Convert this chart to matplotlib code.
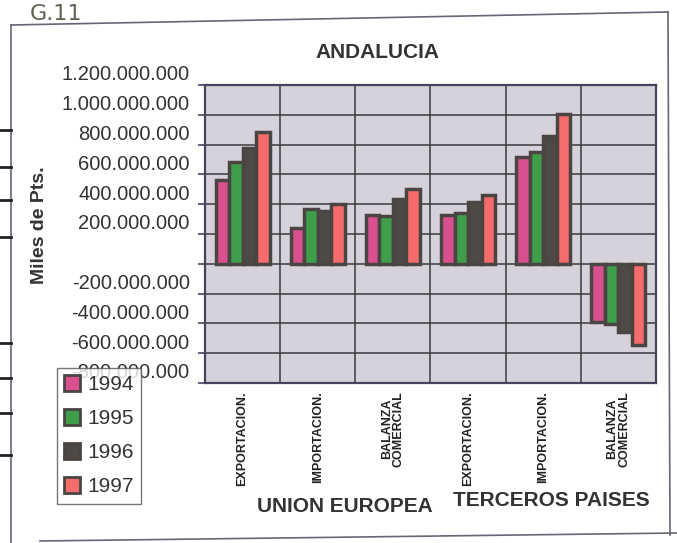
import matplotlib
matplotlib.use("Agg")
import matplotlib.pyplot as plt
import matplotlib.transforms as mtransforms
import numpy as np
from matplotlib.lines import Line2D
from matplotlib.patches import Patch

plt.rcParams['font.family'] = ['Liberation Sans', 'DejaVu Sans']

# datos (miles de pesetas)
categorias = ["EXPORTACION.", "IMPORTACION.", "BALANZA\nCOMERCIAL",
              "EXPORTACION.", "IMPORTACION.", "BALANZA\nCOMERCIAL"]
anios = ["1994", "1995", "1996", "1997"]
v1994 = [565e6, 239e6, 330e6, 326e6, 714e6, -390e6]
v1995 = [686e6, 368e6, 322e6, 344e6, 748e6, -402e6]
v1996 = [775e6, 352e6, 437e6, 414e6, 857e6, -455e6]
v1997 = [882e6, 398e6, 500e6, 465e6, 1005e6, -545e6]
series = [v1994, v1995, v1996, v1997]
colores = ["#d9508e", "#3f9e4a", "#4f4946", "#f66b6b"]
yticks = [-800e6, -600e6, -400e6, -200e6, 0, 200e6, 400e6, 600e6, 800e6, 1000e6, 1200e6]

W, H = 677, 543
fig = plt.figure(figsize=(W / 100, H / 100), dpi=100)
fig.patch.set_facecolor("white")

def fx(px):
    return px / W

def fy(py):
    return 1 - py / H

ax = fig.add_axes([fx(205), fy(383), fx(656) - fx(205), fy(85) - fy(383)])
ax.set_facecolor("#d6d2db")

x = np.arange(len(categorias))
ancho = 0.18
for i, (vals, col) in enumerate(zip(series, colores)):
    ax.bar(x + (i - 1.5) * ancho, vals, ancho, color=col, edgecolor="#4a4542",
           linewidth=2.5, zorder=3, label=anios[i])

ax.set_xlim(-0.5, 5.5)
ax.set_ylim(-800e6, 1200e6)
ax.set_yticks(yticks)
ax.set_yticklabels(["" if v == 0 else f"{v:,.0f}".replace(",", ".") for v in yticks],
                   fontsize=14.5, color="#333333")
ax.tick_params(axis="y", length=5, width=1.2, color="#444466", pad=6)
# en el original las etiquetas quedan algo por encima de su línea
desplaz = mtransforms.ScaledTranslation(0, 0.12, fig.dpi_scale_trans)
for lab in ax.get_yticklabels():
    lab.set_transform(lab.get_transform() + desplaz)

# rejilla
for v in yticks:
    ax.axhline(v, color="#3a3a3a", lw=1.1, zorder=1)
for b in np.arange(0.5, 5.5, 1):
    ax.axvline(b, color="#3a3a3a", lw=1.1, zorder=1)
for s in ax.spines.values():
    s.set_color("#44445e")
    s.set_linewidth(1.6)

ax.set_xticks(x)
ax.set_xticklabels(categorias, rotation=90, fontsize=9, fontweight="bold",
                   color="#222222", linespacing=1.0)
ax.tick_params(axis="x", length=0, pad=6)

# textos
fig.text(fx(377), fy(53), "ANDALUCIA", ha="center", va="center",
         fontsize=15, fontweight="bold", color="#333333")
fig.text(fx(40), fy(225), "Miles de Pts.", rotation=90, ha="center", va="center",
         fontsize=14, fontweight="bold", color="#333333")
fig.text(fx(345), fy(506), "UNION EUROPEA", ha="center", va="center",
         fontsize=15, fontweight="bold", color="#333333")
fig.text(fx(551), fy(501), "TERCEROS PAISES", ha="center", va="center",
         fontsize=15, fontweight="bold", color="#333333")
fig.text(fx(30), fy(14), "G.11", ha="left", va="center", fontsize=16,
         color="#5c6352", family="DejaVu Sans")

# leyenda
handles = [Patch(facecolor=c, edgecolor="#4a4542", linewidth=2) for c in colores]
leg = fig.legend(handles, anios, loc="upper left",
                 bbox_to_anchor=(fx(57), fy(368)), fontsize=15,
                 frameon=True, fancybox=False, handlelength=0.75,
                 handleheight=0.75, handletextpad=0.35, labelspacing=0.72,
                 borderpad=0.35, borderaxespad=0)
leg.get_frame().set_edgecolor("#555555")
leg.get_frame().set_linewidth(1.0)
for t in leg.get_texts():
    t.set_color("#333333")

# marco exterior escaneado
marco = [((11, 25), (668, 12)), ((668, 12), (670, 535)),
         ((11, 25), (11, 543)), ((40, 541), (677, 533))]
for (x0, y0), (x1, y1) in marco:
    fig.add_artist(Line2D([fx(x0), fx(x1)], [fy(y0), fy(y1)], color="#666677", lw=1.2))
for yy in [130, 167, 200, 237, 343, 378, 413, 455]:
    fig.add_artist(Line2D([0, fx(11)], [fy(yy), fy(yy)], color="#222222", lw=2))

fig.savefig("out.png", dpi=100)
